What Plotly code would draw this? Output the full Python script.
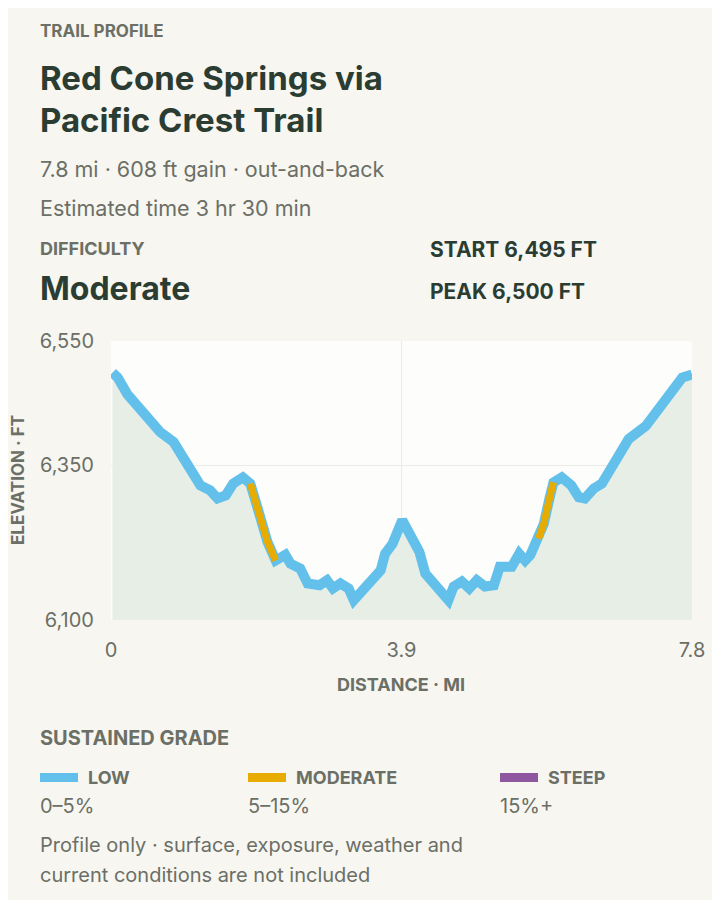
import plotly.graph_objects as go

# elevation profile
distancia = [0.02, 0.09, 0.22, 0.35, 0.43, 0.48, 0.58, 0.66, 0.84, 0.94, 1.07, 1.20, 1.33, 1.43,
             1.54, 1.64, 1.77, 1.87, 1.95, 2.03, 2.10, 2.21, 2.34, 2.41, 2.54, 2.64, 2.80, 2.90,
             2.98, 3.08, 3.19, 3.26, 3.39, 3.52, 3.62, 3.68, 3.78, 3.91, 4.04, 4.14, 4.22, 4.32,
             4.42, 4.53, 4.60, 4.71, 4.81, 4.91, 5.02, 5.14, 5.22, 5.38, 5.48, 5.56, 5.63, 5.74,
             5.81, 5.89, 5.94, 6.05, 6.18, 6.28, 6.36, 6.48, 6.59, 6.72, 6.85, 6.95, 7.18, 7.28,
             7.41, 7.54, 7.67, 7.80]
elevacion = [6499, 6491, 6464, 6446, 6435, 6424, 6413, 6403, 6387, 6368, 6341, 6317, 6309, 6296,
             6301, 6320, 6330, 6320, 6288, 6255, 6226, 6196, 6205, 6191, 6183, 6159, 6156, 6164,
             6151, 6159, 6151, 6132, 6148, 6162, 6180, 6207, 6223, 6261, 6229, 6210, 6175, 6162,
             6148, 6132, 6154, 6162, 6151, 6164, 6154, 6156, 6186, 6186, 6207, 6196, 6205, 6231,
             6255, 6298, 6322, 6330, 6317, 6298, 6296, 6312, 6320, 6346, 6371, 6392, 6413, 6429,
             6451, 6470, 6491, 6496]
# tramos con pendiente moderada (indices inicio, fin)
tramos_moderados = [(17, 21), (55, 58)]

y_ticks = [6100, 6350, 6550]
x_ticks = [0, 3.9, 7.8]

fondo = '#f7f6f1'
verde = '#2b3d32'
gris = '#6b6f66'
azul = '#63c0eb'
ambar = '#e8ab00'
morado = '#8e57a0'

fig = go.Figure()
fig.add_trace(go.Scatter(x=distancia, y=elevacion, mode='lines', fill='tozeroy',
                         fillcolor='#e6eee6', line=dict(color=azul, width=10),
                         hoverinfo='skip', showlegend=False))
for ini, fin in tramos_moderados:
    fig.add_trace(go.Scatter(x=distancia[ini:fin + 1], y=elevacion[ini:fin + 1], mode='lines',
                             line=dict(color=ambar, width=7), showlegend=False))

fig.update_xaxes(range=[0, 7.8], tickvals=x_ticks, ticktext=['0', '3.9', '7.8'],
                 showgrid=True, gridcolor='#ebebe8', zeroline=False, showline=False,
                 tickfont=dict(size=20, color=gris), ticks='outside', ticklen=12,
                 tickcolor='rgba(0,0,0,0)')
fig.update_yaxes(range=[6100, 6550], tickvals=y_ticks, tickformat=',',
                 showgrid=True, gridcolor='#ebebe8', zeroline=False, showline=False,
                 tickfont=dict(size=20, color=gris), ticks='outside', ticklen=12,
                 tickcolor='rgba(0,0,0,0)')


def px_x(px):
    return (px - 111) / 581


def px_y(py):
    return (620 - py) / 279


def texto(t, x, y, size, color, bold=False, xanchor='left'):
    if bold:
        t = '<b>' + t + '</b>'
    fig.add_annotation(text=t, x=px_x(x), y=px_y(y), xref='paper', yref='paper',
                       xanchor=xanchor, yanchor='middle', showarrow=False,
                       font=dict(size=size, color=color))


texto('TRAIL PROFILE', 38, 31, 17, gris, True)
texto('Red Cone Springs via', 38, 78, 33, verde, True)
texto('Pacific Crest Trail', 38, 120, 33, verde, True)
texto('7.8 mi · 608 ft gain · out-and-back', 38, 169, 21.5, gris)
texto('Estimated time 3 hr 30 min', 38, 208, 21.5, gris)
texto('DIFFICULTY', 38, 248, 18, gris, True)
texto('Moderate', 38, 288, 32, verde, True)
texto('START 6,495 FT', 428, 250, 21, verde, True)
texto('PEAK 6,500 FT', 428, 291, 21, verde, True)
texto('DISTANCE · MI', 401, 684, 18, gris, True, 'center')
fig.add_annotation(text='<b>ELEVATION · FT</b>', x=px_x(18), y=px_y(480), xref='paper',
                   yref='paper', textangle=-90, showarrow=False, xanchor='center',
                   yanchor='middle', font=dict(size=17, color=gris))
texto('SUSTAINED GRADE', 38, 738, 20, gris, True)

leyenda = [('LOW', '0–5%', azul, 40), ('MODERATE', '5–15%', ambar, 248),
           ('STEEP', '15%+', morado, 500)]
for nombre, rango, color, x0 in leyenda:
    fig.add_shape(type='rect', xref='paper', yref='paper', x0=px_x(x0), x1=px_x(x0 + 38),
                  y0=px_y(782), y1=px_y(773), fillcolor=color, line_width=0)
    texto(nombre, x0 + 46, 777, 18, gris, True)
    texto(rango, x0 - 2, 806, 20, gris)

texto('Profile only · surface, exposure, weather and', 38, 845, 20, gris)
texto('current conditions are not included', 38, 875, 20, gris)

# la pagina tiene 8px de margen en el body
fig.update_layout(width=720, height=900, paper_bgcolor=fondo, plot_bgcolor='#fdfdfc',
                  margin=dict(l=103, r=36, t=333, b=288),
                  font=dict(family='Inter, Roboto, sans-serif', color=gris))
fig.write_html('out.html')
